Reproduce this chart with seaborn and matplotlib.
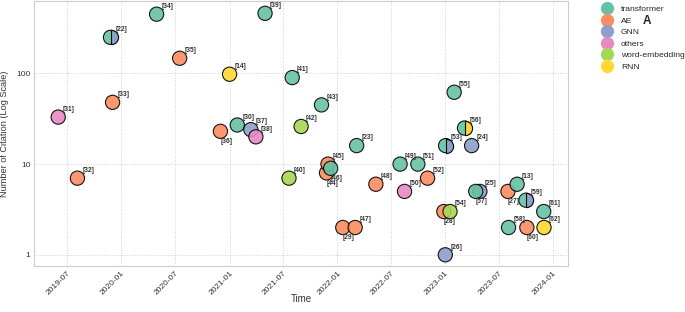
import numpy as np
import pandas as pd
import matplotlib
matplotlib.use("Agg")
import matplotlib.pyplot as plt
import matplotlib.dates as mdates
from matplotlib.markers import MarkerStyle
from matplotlib.lines import Line2D
from matplotlib.ticker import FixedLocator, FixedFormatter
import seaborn as sns

# values
refs = ['[31]', '[32]', '[22]', '[33]', '[34]', '[35]', '[36]', '[14]', '[30]',
        '[37]', '[38]', '[39]', '[40]', '[41]', '[42]', '[43]', '[44]', '[45]',
        '[46]', '[29]', '[47]', '[23]', '[48]', '[49]', '[50]', '[51]', '[52]',
        '[28]', '[54]', '[26]', '[53]', '[55]', '[56]', '[24]', '[25]', '[57]',
        '[27]', '[58]', '[13]', '[59]', '[60]', '[61]', '[62]']
dates = ['2019-06-01', '2019-08-05', '2019-11-25', '2019-12-02', '2020-04-29',
         '2020-07-16', '2020-12-01', '2021-01-01', '2021-01-27', '2021-03-14',
         '2021-03-31', '2021-05-01', '2021-07-21', '2021-08-01', '2021-08-31',
         '2021-11-08', '2021-11-25', '2021-11-30', '2021-12-09', '2022-01-19',
         '2022-03-02', '2022-03-07', '2022-05-11', '2022-08-01', '2022-08-16',
         '2022-09-30', '2022-11-02', '2022-12-27', '2023-01-17', '2023-01-01',
         '2023-01-02', '2023-01-31', '2023-03-07', '2023-03-31', '2023-04-28',
         '2023-04-14', '2023-08-01', '2023-08-03', '2023-09-01', '2023-10-01',
         '2023-10-04', '2023-11-30', '2023-12-01']
citations = [33, 7, 250, 48, 450, 147, 23, 98, 27,
             24, 20, 460, 7, 90, 26, 45, 8, 10,
             9, 2, 2, 16, 6, 10, 5, 10, 7,
             3, 3, 1, 16, 62, 25, 16, 5, 5,
             5, 2, 6, 4, 2, 3, 2]
category = ['others', 'AE', 'transformer', 'AE', 'transformer', 'AE', 'AE', 'RNN',
            'transformer', 'GNN', 'others', 'transformer', 'word-embedding',
            'transformer', 'word-embedding', 'transformer', 'AE', 'AE',
            'transformer', 'AE', 'AE', 'transformer', 'AE', 'transformer',
            'others', 'transformer', 'AE', 'AE', 'word-embedding', 'GNN',
            'transformer', 'transformer', 'transformer', 'GNN', 'GNN',
            'transformer', 'AE', 'transformer', 'transformer', 'transformer',
            'AE', 'transformer', 'RNN']
# second model family for papers that combine two
second = {'[22]': 'GNN', '[53]': 'GNN', '[56]': 'RNN', '[59]': 'GNN'}
below = {'[36]', '[29]', '[44]', '[46]', '[28]', '[57]', '[27]', '[60]'}

order = ['transformer', 'AE', 'GNN', 'others', 'word-embedding', 'RNN']
palette = dict(zip(order, sns.color_palette('Set2', 6)))

df = pd.DataFrame({'ref': refs, 'date': pd.to_datetime(dates),
                   'citations': citations, 'category': category})

sns.set_theme(style='whitegrid')
plt.rcParams['font.family'] = ['Liberation Sans', 'DejaVu Sans']

fig = plt.figure(figsize=(6.85, 3.12), dpi=100)
ax = fig.add_axes([0.0496, 0.147, 0.7795, 0.85])

sns.scatterplot(data=df, x='date', y='citations', hue='category', hue_order=order,
                palette=palette, s=105, edgecolor='black', linewidth=0.8,
                alpha=0.9, legend=False, ax=ax, zorder=3)

half = MarkerStyle('o', fillstyle='right')
for ref, cat in second.items():
    row = df[df['ref'] == ref].iloc[0]
    ax.scatter([row['date']], [row['citations']], marker=half, s=105,
               color=palette[cat], edgecolor='black', linewidth=0.8,
               alpha=0.95, zorder=4)

for _, row in df.iterrows():
    if row['ref'] in below:
        ax.annotate(row['ref'], (row['date'], row['citations']), xytext=(0, -5),
                    textcoords='offset points', ha='left', va='top',
                    fontsize=4.8, fontweight='bold', color='#333333', zorder=5)
    else:
        ax.annotate(row['ref'], (row['date'], row['citations']), xytext=(3.5, 3),
                    textcoords='offset points', ha='left', va='bottom',
                    fontsize=4.8, fontweight='bold', color='#333333', zorder=5)

ax.set_yscale('log')
ax.set_ylim(0.75, 630)
ax.yaxis.set_major_locator(FixedLocator([1, 10, 100]))
ax.yaxis.set_major_formatter(FixedFormatter(['1', '10', '100']))
ax.yaxis.set_minor_locator(FixedLocator([]))
ax.set_xlim(pd.Timestamp('2019-03-11'), pd.Timestamp('2024-02-20'))
ax.xaxis.set_major_locator(mdates.MonthLocator(bymonth=[1, 7]))
ax.xaxis.set_major_formatter(mdates.DateFormatter('%Y-%m'))
plt.setp(ax.get_xticklabels(), rotation=45, ha='right', rotation_mode='anchor')
ax.tick_params(labelsize=6, colors='#333333', length=0, pad=2.5)

ax.grid(True, linestyle=':', color='#d0d0d0', linewidth=0.7)
for sp in ax.spines.values():
    sp.set_color('#cccccc')
    sp.set_linewidth(0.8)

ax.set_xlabel('Time', fontsize=7, color='#333333')
ax.set_ylabel('Number of Citation (Log Scale)', fontsize=6.6, color='#333333')
ax.xaxis.set_label_coords(0.5, -0.105)
ax.yaxis.set_label_coords(-0.046, 0.5)

handles = [Line2D([0], [0], marker='o', linestyle='-',
                  color=matplotlib.colors.to_rgba(palette[c], 0.3),
                  markerfacecolor=palette[c], markeredgecolor=palette[c],
                  markersize=8.5, linewidth=0.6) for c in order]
fig.legend(handles, order, loc='upper left', bbox_to_anchor=(0.872, 0.994),
           frameon=False, fontsize=6.1, labelspacing=0.42, handlelength=1.6,
           handletextpad=0.8, borderaxespad=0)

fig.text(0.944, 0.933, 'A', fontsize=8.5, fontweight='bold', ha='center', va='center')

fig.savefig('out.png', dpi=100)
